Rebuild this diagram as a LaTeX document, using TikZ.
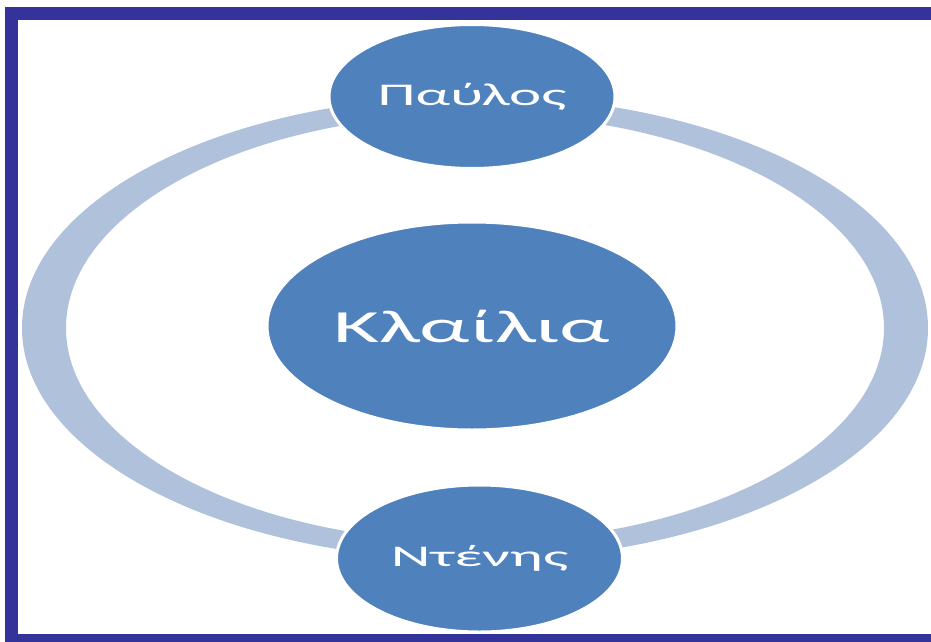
\documentclass[tikz,border=0pt]{standalone}
\usepackage{fontspec}
\setmainfont{Carlito}
\definecolor{framenavy}{RGB}{51,51,153}
\definecolor{nodeblue}{RGB}{79,129,189}
\definecolor{ringblue}{RGB}{176,193,220}
\usetikzlibrary{shapes.geometric}

\begin{document}
\begin{tikzpicture}[x=1pt, y=-1pt,
    person/.style={ellipse, fill=nodeblue, draw=white, line width=3pt, inner sep=0pt, text=white}]
    \useasboundingbox (0,0) rectangle (931,642);
    \clip (0,0) rectangle (931,642);
    % ring around the centre
    \fill[ringblue, even odd rule] (475,328) ellipse [x radius=453, y radius=232]
        (475,328) ellipse [x radius=409, y radius=214];
    % three persons
    \node[person, minimum width=410pt, minimum height=208pt] (klailia) at (472,326)
        {\fontsize{46}{52}\selectfont\scalebox{1.93}[1]{Κλαίλια}};
    \node[person, minimum width=286pt, minimum height=144pt] (pavlos) at (472,96.5)
        {\fontsize{31.6}{36}\selectfont\scalebox{1.93}[1]{Παύλος}};
    \node[person, minimum width=286pt, minimum height=147pt] (ntenis) at (479.5,558.5)
        {\fontsize{30}{36}\selectfont\scalebox{2.05}[1]{Ντένης}};
    % frame
    \draw[framenavy, line width=13pt] (11.5,13.5) rectangle (938,640.5);
\end{tikzpicture}
\end{document}
